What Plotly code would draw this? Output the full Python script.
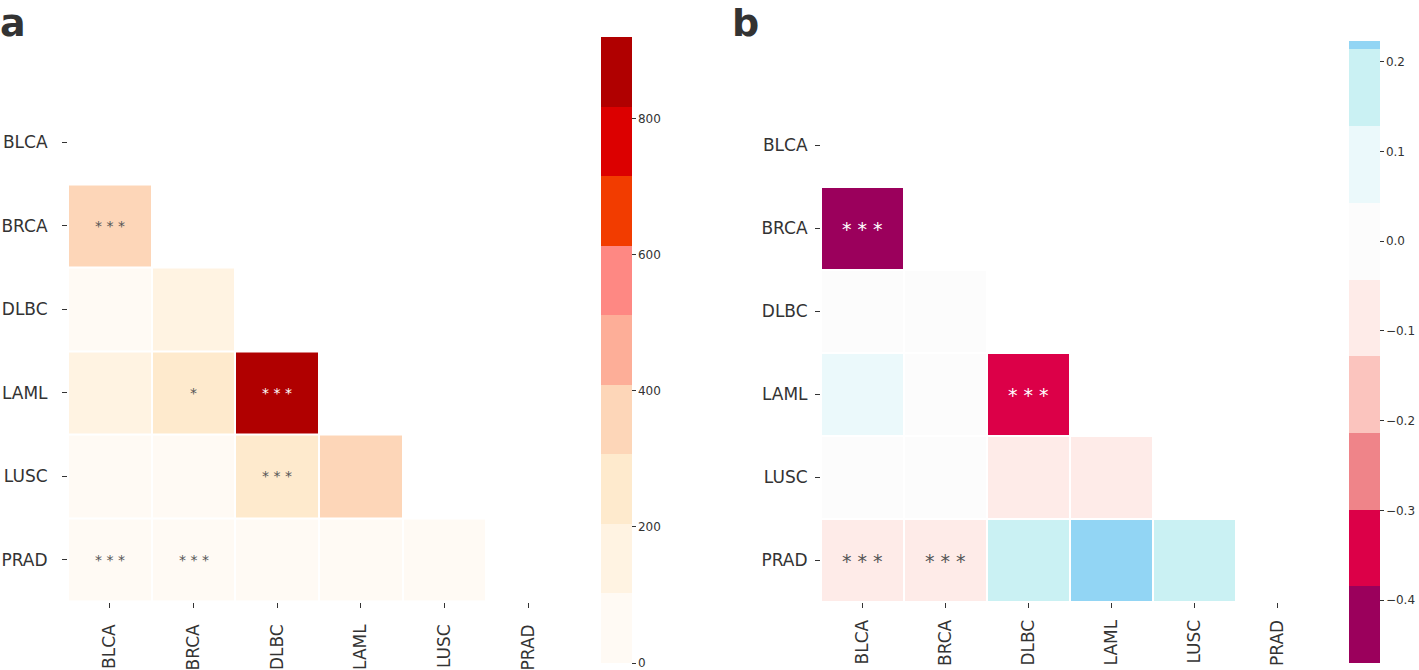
import numpy as np
import plotly.graph_objects as go

# ---------------- data ----------------
cancers = ["BLCA", "BRCA", "DLBC", "LAML", "LUSC", "PRAD"]

# panel a (lower triangle, rows = y, cols = x)
a_values = [
    [None, None, None, None, None, None],
    [360, None, None, None, None, None],
    [30, 145, None, None, None, None],
    [135, 245, 920, None, None, None],
    [40, 20, 255, 355, None, None],
    [30, 30, 20, 25, 20, None],
]
a_sig = [
    ["", "", "", "", "", ""],
    ["***", "", "", "", "", ""],
    ["", "", "", "", "", ""],
    ["", "*", "***", "", "", ""],
    ["", "", "***", "", "", ""],
    ["***", "***", "", "", "", ""],
]

# panel b
b_values = [
    [None, None, None, None, None, None],
    [-0.47, None, None, None, None, None],
    [0.0, 0.01, None, None, None, None],
    [0.07, 0.0, -0.34, None, None, None],
    [0.0, 0.0, -0.08, -0.08, None, None],
    [-0.08, -0.07, 0.16, 0.223, 0.17, None],
]
b_sig = [
    ["", "", "", "", "", ""],
    ["***", "", "", "", "", ""],
    ["", "", "", "", "", ""],
    ["", "", "***", "", "", ""],
    ["", "", "", "", "", ""],
    ["***", "***", "", "", "", ""],
]

a_ticks = [0, 200, 400, 600, 800]
b_ticks = [-0.4, -0.3, -0.2, -0.1, 0.0, 0.1, 0.2]

# ---------------- styles ----------------
a_colors = ["#fffaf4", "#fff3e2", "#feeacd", "#fdd6b8", "#fdae98",
            "#fe8883", "#f23c00", "#dc0000", "#b00000"]
a_min, a_max = 0, 920
b_colors = ["#9b005c", "#dc0048", "#ef8489", "#fbc4be", "#feebe8", "#fcfcfc",
            "#ebf9fb", "#caf1f3", "#92d5f4", "#4fb3e8", "#1f87c8"]
b_min, b_max = -0.47, 0.223
b_half = 0.47


def discrete_scale(colors, bounds, zmin, zmax):
    scale = []
    for c, lo, hi in zip(colors, bounds[:-1], bounds[1:]):
        lo_c, hi_c = max(lo, zmin), min(hi, zmax)
        if hi_c <= lo_c:
            continue
        t0 = (lo_c - zmin) / (zmax - zmin)
        t1 = (hi_c - zmin) / (zmax - zmin)
        scale.append([t0, c])
        scale.append([t1, c])
    scale[0][0] = 0.0
    scale[-1][0] = 1.0
    return scale


a_bounds = list(np.linspace(a_min, a_max, len(a_colors) + 1))
b_bounds = list(np.linspace(-b_half, b_half, len(b_colors) + 1))
a_scale = discrete_scale(a_colors, a_bounds, a_min, a_max)
b_scale = discrete_scale(b_colors, b_bounds, b_min, b_max)

W, H = 1419, 670
FONT = "DejaVu Sans"
TXT = "#333333"

fig = go.Figure()

fig.add_trace(go.Heatmap(
    z=a_values, x=cancers, y=cancers, xaxis="x", yaxis="y",
    colorscale=a_scale, zmin=a_min, zmax=a_max, xgap=2, ygap=2,
    hoverongaps=False,
    colorbar=dict(
        x=601 / W, xanchor="left", xpad=0, thickness=31, thicknessmode="pixels",
        y=(H - 663) / H, yanchor="bottom", ypad=0, len=(663 - 37) / H, lenmode="fraction",
        outlinewidth=0, tickvals=a_ticks, ticks="outside", ticklen=4,
        ticklabeloverflow="allow",
        tickcolor=TXT, tickfont=dict(family=FONT, size=12, color=TXT),
    ),
))

fig.add_trace(go.Heatmap(
    z=b_values, x=cancers, y=cancers, xaxis="x2", yaxis="y2",
    colorscale=b_scale, zmin=b_min, zmax=b_max, xgap=2, ygap=2,
    hoverongaps=False,
    colorbar=dict(
        x=1349 / W, xanchor="left", xpad=0, thickness=31, thicknessmode="pixels",
        y=(H - 663) / H, yanchor="bottom", ypad=0, len=(663 - 41) / H, lenmode="fraction",
        outlinewidth=0, tickvals=b_ticks, tickformat=".1f", ticks="outside", ticklen=4,
        ticklabeloverflow="allow",
        tickcolor=TXT, tickfont=dict(family=FONT, size=12, color=TXT),
    ),
))

annotations = []
for r, row in enumerate(a_sig):
    for c, s in enumerate(row):
        if s:
            v = a_values[r][c]
            annotations.append(dict(
                x=cancers[c], y=cancers[r], xref="x", yref="y", text=" ".join(s),
                showarrow=False,
                font=dict(family=FONT, size=14, color="#ffffff" if v > 600 else "#555555")))
for r, row in enumerate(b_sig):
    for c, s in enumerate(row):
        if s:
            v = b_values[r][c]
            annotations.append(dict(
                x=cancers[c], y=cancers[r], xref="x2", yref="y2", text=" ".join(s),
                showarrow=False,
                font=dict(family=FONT, size=19, color="#ffffff" if v < -0.25 else "#555555")))

annotations.append(dict(x=-2 / W, y=1 + 1 / H, xref="paper", yref="paper", text="<b>a</b>",
                        xanchor="left", yanchor="top", showarrow=False,
                        font=dict(family=FONT, size=38, color=TXT)))
annotations.append(dict(x=730 / W, y=1 + 1 / H, xref="paper", yref="paper", text="<b>b</b>",
                        xanchor="left", yanchor="top", showarrow=False,
                        font=dict(family=FONT, size=38, color=TXT)))

axis_common = dict(showgrid=False, zeroline=False, showline=False, ticks="outside",
                   ticklen=5, tickcolor=TXT, tickwidth=1,
                   tickfont=dict(family=FONT, size=17, color=TXT), type="category")

fig.update_layout(
    width=W, height=H, margin=dict(l=0, r=0, t=0, b=0, autoexpand=False),
    paper_bgcolor="white", plot_bgcolor="white", showlegend=False,
    xaxis=dict(axis_common, domain=[68 / W, 570 / W], anchor="y", tickangle=-90,
               ticklabelstandoff=10),
    yaxis=dict(axis_common, domain=[(H - 601.5) / H, (H - 100.5) / H], anchor="x",
               autorange="reversed", ticklabelstandoff=11),
    xaxis2=dict(axis_common, domain=[821 / W, 1319 / W], anchor="y2", tickangle=-90,
                ticklabelstandoff=5),
    yaxis2=dict(axis_common, domain=[(H - 602) / H, (H - 104) / H], anchor="x2",
                autorange="reversed", ticklabelstandoff=4),
    annotations=annotations,
)

fig.write_html("out.html", config={"displayModeBar": False},
               post_script="document.body.style.margin='0px';document.body.style.overflow='hidden';")
